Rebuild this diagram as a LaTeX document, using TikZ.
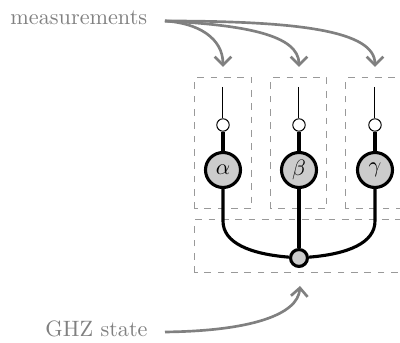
\documentclass[tikz,border=0pt]{standalone}
\usetikzlibrary{arrows.meta}
\begin{document}
\begin{tikzpicture}[x=0.45pt, y=0.45pt,
    label text/.style={text=black!50, inner sep=0pt},
    pointer/.style={-{Straight Barb[length=3.8pt, width=7.5pt]}, draw=black!50, line width=1.2pt},
    frame/.style={draw=black!40, dashed, line width=0.45pt},
    party/.style={circle, draw, line width=1.4pt, fill=black!20, minimum size=15.75pt, inner sep=0pt},
    outcome/.style={circle, draw, line width=0.45pt, fill=white, minimum size=5.6pt, inner sep=0pt},
    source/.style={circle, draw, line width=1.4pt, fill=black!20, minimum size=7.6pt, inner sep=0pt},
    wire/.style={line width=1.4pt}]
    \clip (0, 0) rectangle (400, 343);

    % rahmen
    \draw[frame] (195, 134) rectangle (252, 265);
    \draw[frame] (271, 134) rectangle (327, 265);
    \draw[frame] (346, 134) rectangle (410, 265);
    \draw[frame] (195, 70) rectangle (410, 123);

    % drei parteien
    \node[party] (a) at (223, 173) {$\alpha$};
    \node[party] (b) at (299, 173) {$\beta$};
    \node[party] (c) at (375, 173) {$\gamma$};
    \node[outcome] (oa) at (223, 218) {};
    \node[outcome] (ob) at (299, 218) {};
    \node[outcome] (oc) at (375, 218) {};
    \coordinate (ta) at (223, 256);
    \coordinate (tb) at (299, 256);
    \coordinate (tc) at (375, 256);

    % ghz-quelle
    \node[source] (g) at (299, 85) {};

    % leitungen
    \draw[line width=0.45pt] (ta) -- (oa);
    \draw[line width=0.45pt] (tb) -- (ob);
    \draw[line width=0.45pt] (tc) -- (oc);
    \draw[wire] (oa) -- (a);
    \draw[wire] (ob) -- (b);
    \draw[wire] (oc) -- (c);
    \draw[wire] (a) -- (223, 122) .. controls (223, 100) and (250, 89) .. (g);
    \draw[wire] (c) -- (375, 122) .. controls (375, 100) and (348, 89) .. (g);
    \draw[wire] (b) -- (g);

    % beschriftungen
    \node[label text, anchor=base west] (meas) at (10, 318) {measurements};
    \node[label text, anchor=base west] (ghz) at (45, 6) {GHZ state};
    \coordinate (ms) at (165, 322);
    \coordinate (gs) at (165, 11);
    \coordinate (ma) at (223, 276);
    \coordinate (mb) at (299, 276);
    \coordinate (mc) at (375, 276);
    \coordinate (gt) at (300, 57);

    \draw[pointer] (ms) .. controls (198, 320) and (223, 305) .. (ma);
    \draw[pointer] (ms) .. controls (245, 318) and (299, 308) .. (mb);
    \draw[pointer] (ms) .. controls (300, 322) and (375, 312) .. (mc);
    \draw[pointer] (gs) .. controls (250, 12) and (298, 28) .. (gt);
\end{tikzpicture}
\end{document}
